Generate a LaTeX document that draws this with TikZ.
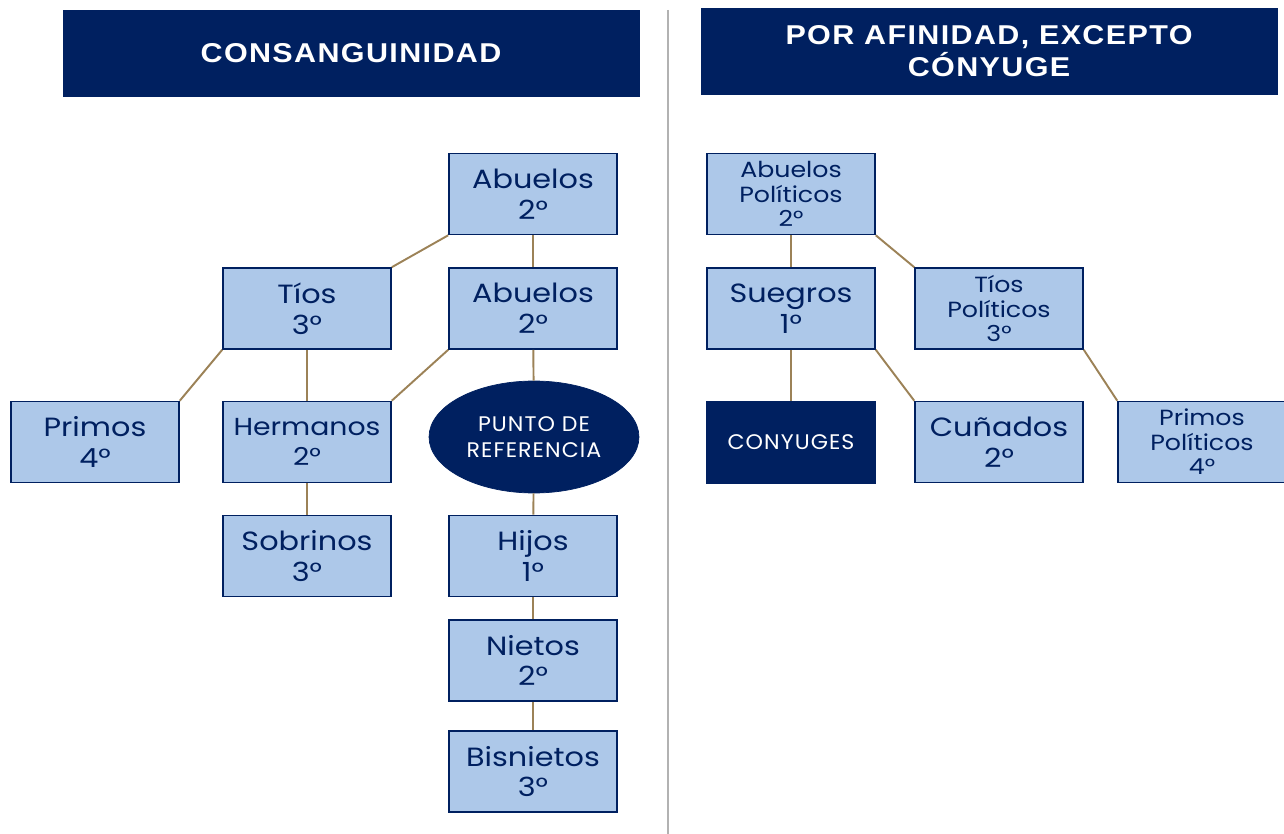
\documentclass[tikz,border=0pt]{standalone}
\usepackage{fontspec}
\usetikzlibrary{shapes.geometric}
\setmainfont{Poppins}[FakeStretch=1.15]
\newfontfamily\headfont[LetterSpace=5,FakeStretch=1.12]{Liberation Sans}
\newfontfamily\capsfont[LetterSpace=5,FakeStretch=1.05]{Poppins}
\definecolor{navy}{HTML}{002060}
\definecolor{celeste}{HTML}{ADC8E9}
\definecolor{linea}{HTML}{9C8257}

\begin{document}
\begin{tikzpicture}[x=0.02cm,y=-0.02cm,
	caja/.style={draw=navy,fill=celeste,line width=0.9pt,minimum width=3.36cm,minimum height=1.62cm,text=navy,align=center,inner sep=0pt},
	grande/.style={font=\fontsize{15}{17.5}\selectfont},
	chica/.style={font=\fontsize{12.5}{14}\selectfont},
	oscura/.style={fill=navy,draw=navy,text=white,align=center,inner sep=0pt},
	titulo/.style={oscura,minimum width=11.52cm,minimum height=1.72cm,font=\headfont\bfseries\fontsize{15.5}{18}\selectfont},
	enlace/.style={draw=linea,line width=1.1pt}]
	\useasboundingbox (0,0) rectangle (1284,834);

	% titulos
	\node[titulo] (tconsan) at (351,53) {CONSANGUINIDAD};
	\node[titulo] (tafin) at (989,51) {POR AFINIDAD, EXCEPTO\\CÓNYUGE};
	\draw[gray!60,line width=0.8pt] (668,10) -- (668,834);

	% consanguinidad
	\node[caja,grande] (abuelosA) at (533,194) {Abuelos\\2°};
	\node[caja,grande] (tios) at (307,308.5) {Tíos\\3°};
	\node[caja,grande] (abuelosB) at (533,308.5) {Abuelos\\2°};
	\node[caja,grande] (primos) at (95,442) {Primos\\4°};
	\node[caja,font=\fontsize{14}{17.5}\selectfont] (hermanos) at (307,442) {Hermanos\\2°};
	\node[ellipse,oscura,minimum width=4.2cm,minimum height=2.24cm,font=\capsfont\fontsize{12}{14.5}\selectfont] (punto) at (534,437) {PUNTO DE\\REFERENCIA};
	\node[caja,grande] (sobrinos) at (307,556) {Sobrinos\\3°};
	\node[caja,grande] (hijos) at (533,556) {Hijos\\1°};
	\node[caja,grande] (nietos) at (533,660.5) {Nietos\\2°};
	\node[caja,grande] (bisnietos) at (533,771.5) {Bisnietos\\3°};

	\draw[enlace] (abuelosA.south west) -- (tios.north east);
	\draw[enlace] (abuelosA) -- (abuelosB);
	\draw[enlace] (tios.south west) -- (primos.north east);
	\draw[enlace] (tios) -- (hermanos);
	\draw[enlace] (abuelosB.south west) -- (hermanos.north east);
	\draw[enlace] (abuelosB) -- (punto);
	\draw[enlace] (hermanos) -- (sobrinos);
	\draw[enlace] (punto) -- (hijos);
	\draw[enlace] (hijos) -- (nietos);
	\draw[enlace] (nietos) -- (bisnietos);

	% afinidad
	\node[caja,chica] (abpol) at (791,194) {Abuelos\\Políticos\\2°};
	\node[caja,grande] (suegros) at (791,308.5) {Suegros\\1°};
	\node[caja,chica] (tiospol) at (999,308.5) {Tíos\\Políticos\\3°};
	\node[oscura,minimum width=3.38cm,minimum height=1.64cm,font=\capsfont\fontsize{12}{14}\selectfont] (conyuges) at (791,442) {CONYUGES};
	\node[caja,grande] (cunados) at (999,442) {Cuñados\\2°};
	\node[caja,chica] (primospol) at (1202,442) {Primos\\Políticos\\4°};

	\draw[enlace] (abpol) -- (suegros);
	\draw[enlace] (abpol.south east) -- (tiospol.north west);
	\draw[enlace] (suegros) -- (conyuges);
	\draw[enlace] (suegros.south east) -- (cunados.north west);
	\draw[enlace] (tiospol.south east) -- (primospol.north west);
\end{tikzpicture}
\end{document}
